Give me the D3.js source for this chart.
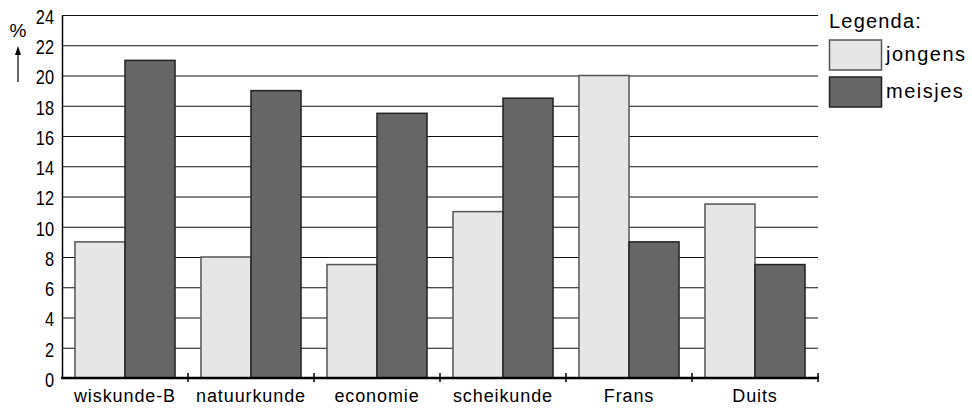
<!DOCTYPE html>
<html>
<head>
<meta charset="utf-8">
<script src="https://cdn.jsdelivr.net/npm/d3@7"></script>
<style>
  body { margin: 0; background: #fff; }
  svg text { font-family: "Liberation Sans", Arial, sans-serif; fill: #000; }
</style>
</head>
<body>
<div id="chart"></div>
<script>
// chart data
const VAKKEN = ["wiskunde-B", "natuurkunde", "economie", "scheikunde", "Frans", "Duits"];
const JONGENS = [9, 8, 7.5, 11, 20, 11.5];
const MEISJES = [21, 19, 17.5, 18.5, 9, 7.5];
const SERIES = ["jongens", "meisjes"];
const Y_TICKS = [0, 2, 4, 6, 8, 10, 12, 14, 16, 18, 20, 22, 24];

// page set up
const FRAME_WIDTH = 972;
const FRAME_HEIGHT = 410;
const MARGINS = {left: 62, right: 154, top: 15, bottom: 32};
const VIS_WIDTH = FRAME_WIDTH - MARGINS.left - MARGINS.right;
const VIS_HEIGHT = FRAME_HEIGHT - MARGINS.top - MARGINS.bottom;
const COLORS = {jongens: "#e6e6e6", meisjes: "#666666"};
const STROKES = {jongens: "#555", meisjes: "#222"};

const FRAME = d3.select("#chart")
  .append("svg")
  .attr("width", FRAME_WIDTH)
  .attr("height", FRAME_HEIGHT);

const data = VAKKEN.map((v, i) => ({vak: v, jongens: JONGENS[i], meisjes: MEISJES[i]}));

// scales
const X_SCALE = d3.scaleBand()
  .domain(VAKKEN)
  .range([0, VIS_WIDTH])
  .paddingInner(0.206)
  .paddingOuter(0.103);

const X_INNER = d3.scaleBand()
  .domain(SERIES)
  .range([0, X_SCALE.bandwidth()]);

const Y_SCALE = d3.scaleLinear()
  .domain([0, 24])
  .range([VIS_HEIGHT, 0]);

const G = FRAME.append("g")
  .attr("transform", "translate(" + MARGINS.left + "," + MARGINS.top + ")");

// gridlines
G.append("g")
  .selectAll("line")
  .data(Y_TICKS.filter(d => d > 0))
  .enter()
  .append("line")
  .attr("x1", 0)
  .attr("x2", VIS_WIDTH)
  .attr("y1", d => Y_SCALE(d) + 0.5)
  .attr("y2", d => Y_SCALE(d) + 0.5)
  .attr("stroke", "#111")
  .attr("stroke-width", 1.2);

// bars
const groups = G.selectAll(".groep")
  .data(data)
  .enter()
  .append("g")
  .attr("transform", d => "translate(" + X_SCALE(d.vak) + ",0)");

groups.selectAll("rect")
  .data(d => SERIES.map(s => ({serie: s, waarde: d[s]})))
  .enter()
  .append("rect")
  .attr("x", d => X_INNER(d.serie))
  .attr("y", d => Y_SCALE(d.waarde))
  .attr("width", X_INNER.bandwidth())
  .attr("height", d => VIS_HEIGHT - Y_SCALE(d.waarde))
  .attr("fill", d => COLORS[d.serie])
  .attr("stroke", d => STROKES[d.serie])
  .attr("stroke-width", 1.5);

// y axis (condensed tick labels)
const yAxis = G.append("g")
  .call(d3.axisLeft(Y_SCALE).tickValues(Y_TICKS).tickSize(0).tickPadding(8));
yAxis.select(".domain").attr("stroke", "#000").attr("stroke-width", 1.5);
yAxis.selectAll(".tick text")
  .attr("font-size", "20px")
  .attr("dy", "0.42em")
  .attr("transform", "translate(-8,0) scale(0.82,1)")
  .attr("x", 0);

// x axis
const X_TICK_POS = d3.range(VAKKEN.length + 1).map(i => i * X_SCALE.step());
const xAxisG = G.append("g")
  .attr("transform", "translate(0," + VIS_HEIGHT + ")");
xAxisG.append("line")
  .attr("x1", -1).attr("x2", VIS_WIDTH + 1)
  .attr("y1", 0).attr("y2", 0)
  .attr("stroke", "#000").attr("stroke-width", 2.5);
xAxisG.selectAll(".tick-mark")
  .data(X_TICK_POS.slice(1))
  .enter()
  .append("line")
  .attr("x1", d => d).attr("x2", d => d)
  .attr("y1", -5).attr("y2", 4)
  .attr("stroke", "#000").attr("stroke-width", 1.5);
xAxisG.selectAll(".vak-label")
  .data(VAKKEN)
  .enter()
  .append("text")
  .attr("x", d => X_SCALE(d) + X_SCALE.bandwidth() / 2)
  .attr("y", 24)
  .attr("text-anchor", "middle")
  .attr("font-size", "18px")
  .attr("letter-spacing", "0.9px")
  .text(d => d);

// y label: % with arrow
FRAME.append("text")
  .attr("x", 18).attr("y", 37)
  .attr("text-anchor", "middle")
  .attr("font-size", "19px")
  .text("%");
FRAME.append("line")
  .attr("x1", 18).attr("x2", 18)
  .attr("y1", 82).attr("y2", 52)
  .attr("stroke", "#000").attr("stroke-width", 1.2);
FRAME.append("path")
  .attr("d", "M18,46 L15,55 L21,55 Z")
  .attr("fill", "#000");

// legend
const LEGEND = FRAME.append("g").attr("transform", "translate(829,0)");
LEGEND.append("text")
  .attr("x", 0).attr("y", 28)
  .attr("font-size", "20px")
  .attr("letter-spacing", "1.2px")
  .text("Legenda:");
LEGEND.selectAll("rect")
  .data(SERIES)
  .enter()
  .append("rect")
  .attr("x", 0.5)
  .attr("y", (d, i) => 40 + i * 37)
  .attr("width", 52)
  .attr("height", 30)
  .attr("fill", d => COLORS[d])
  .attr("stroke", d => STROKES[d])
  .attr("stroke-width", 1.5);
LEGEND.selectAll(".leg-label")
  .data(SERIES)
  .enter()
  .append("text")
  .attr("x", 57)
  .attr("y", (d, i) => 61 + i * 37)
  .attr("font-size", "20px")
  .attr("letter-spacing", "1.5px")
  .text(d => d);
</script>
</body>
</html>
